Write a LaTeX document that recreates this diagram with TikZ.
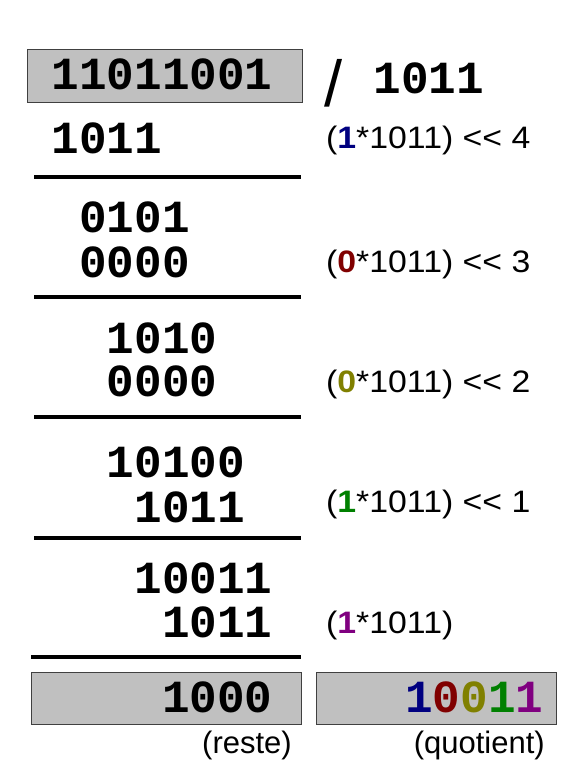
\documentclass[tikz,border=0pt]{standalone}
\usepackage{fontspec}
\setmainfont{Liberation Sans}
\newfontfamily\monof{Liberation Mono}
\newfontfamily\lblfont{Liberation Sans}[FakeStretch=1.09]
\definecolor{qblue}{HTML}{000080}
\definecolor{qred}{HTML}{800000}
\definecolor{qolive}{HTML}{808000}
\definecolor{qgreen}{HTML}{008000}
\definecolor{qpurple}{HTML}{800080}
\definecolor{boxgray}{HTML}{C0C0C0}
\definecolor{boxline}{HTML}{404040}
\tikzset{
  digits/.style={inner sep=0pt, anchor=base west, font=\monof\bfseries\fontsize{46}{46}\selectfont},
  lbl/.style={inner sep=0pt, anchor=base west, font=\lblfont\fontsize{31}{31}\selectfont},
  captionlbl/.style={inner sep=0pt, anchor=base east, font=\fontsize{31}{31}\selectfont},
  rulestyle/.style={line width=4.5pt},
  regbox/.style={fill=boxgray, draw=boxline, line width=1pt},
}
\newcommand{\shl}{<{}<}
\begin{document}
\begin{tikzpicture}[x=1pt,y=-1pt]
\useasboundingbox (0,0) rectangle (569,774);
% boxes
\draw[regbox] (27,49) rectangle (302,102);
\draw[regbox] (31,672) rectangle (301,724);
\draw[regbox] (316,672) rectangle (556,724);
% rules
\draw[rulestyle] (34,177) -- (301,177);
\draw[rulestyle] (34,297) -- (301,297);
\draw[rulestyle] (34,417) -- (301,417);
\draw[rulestyle] (34,538) -- (301,538);
\draw[rulestyle] (31,657) -- (301,657);
% column digits (cell width 27.6)
\node[digits] (dividend) at (51.5,89) {11011001};
\node[digits] (s1) at (51.5,153) {1011};
\node[digits] (r1) at (79.1,232) {0101};
\node[digits] (s2) at (79.1,277) {0000};
\node[digits] (r2) at (106.7,353) {1010};
\node[digits] (s3) at (106.7,396) {0000};
\node[digits] (r3) at (106.7,477) {10100};
\node[digits] (s4) at (134.3,522) {1011};
\node[digits] (r4) at (134.3,593) {10011};
\node[digits] (s5) at (161.9,637) {1011};
\node[digits] (rest) at (161.9,712) {1000};
% divisor
\node[inner sep=0pt, anchor=base west, font=\fontsize{65}{65}\selectfont] (slash) at (324,106) {/};
\node[digits] (divisor) at (373.5,93) {1011};
% quotient
\node[digits] (quot) at (405,712) {\textcolor{qblue}{1}\textcolor{qred}{0}\textcolor{qolive}{0}\textcolor{qgreen}{1}\textcolor{qpurple}{1}};
% labels
\node[lbl] (l1) at (326,148) {(\textbf{\textcolor{qblue}{1}}*1011) \shl\ 4};
\node[lbl] (l2) at (326,272) {(\textbf{\textcolor{qred}{0}}*1011) \shl\ 3};
\node[lbl] (l3) at (326,392) {(\textbf{\textcolor{qolive}{0}}*1011) \shl\ 2};
\node[lbl] (l4) at (326,512) {(\textbf{\textcolor{qgreen}{1}}*1011) \shl\ 1};
\node[lbl] (l5) at (326,633) {(\textbf{\textcolor{qpurple}{1}}*1011)};
\node[captionlbl] (reste) at (292,753) {(reste)};
\node[captionlbl] (quotient) at (545,753) {(quotient)};
\end{tikzpicture}
\end{document}
